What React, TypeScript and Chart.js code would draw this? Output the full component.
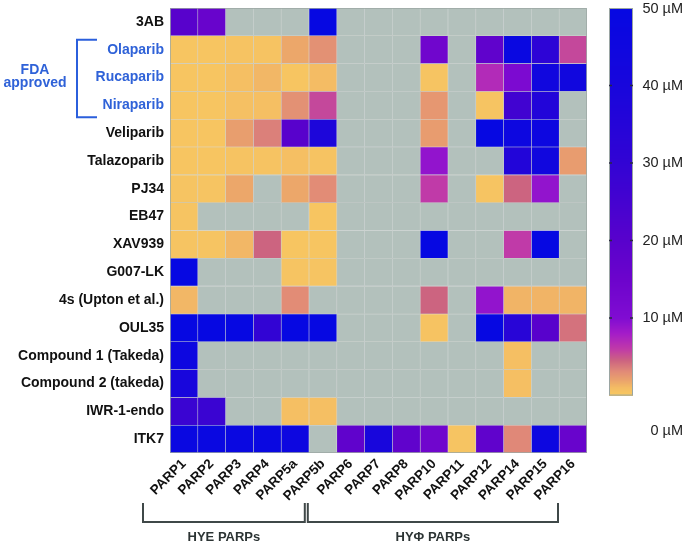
import { useEffect, useRef } from "react";
import { Chart, registerables } from "chart.js";

Chart.register(...registerables);

const compounds = [
  "3AB",
  "Olaparib",
  "Rucaparib",
  "Niraparib",
  "Veliparib",
  "Talazoparib",
  "PJ34",
  "EB47",
  "XAV939",
  "G007-LK",
  "4s (Upton et al.)",
  "OUL35",
  "Compound 1 (Takeda)",
  "Compound 2 (takeda)",
  "IWR-1-endo",
  "ITK7",
];

const parps = [
  "PARP1", "PARP2", "PARP3", "PARP4", "PARP5a", "PARP5b",
  "PARP6", "PARP7", "PARP8", "PARP10", "PARP11", "PARP12",
  "PARP14", "PARP15", "PARP16",
];

const n = null;
// IC50 values in µM (null = not determined, grey)
const ic3AB = [20, 16, n, n, n, 50, n, n, n, n, n, n, n, n, n];
const icOlaparib = [0.3, 0.3, 0.5, 0.5, 1.8, 2.8, n, n, n, 14, n, 18, 48, 32, 5.5];
const icRucaparib = [0.3, 0.3, 0.8, 1.2, 0.3, 1.0, n, n, n, 0.4, n, 7, 11, 44, 44];
const icNiraparib = [0.3, 0.3, 0.7, 0.8, 2.8, 5.5, n, n, n, 2.5, n, 0.4, 26, 36, n];
const icVeliparib = [0.3, 0.3, 2.2, 3.5, 20, 38, n, n, n, 2.3, n, 50, 46, 46, n];
const icTalazoparib = [0.3, 0.3, 0.5, 0.5, 0.8, 0.5, n, n, n, 9, n, n, 36, 44, 2.3];
const icPJ34 = [0.4, 0.4, 1.8, n, 1.8, 3.0, n, n, n, 6, n, 0.4, 4.5, 9, n];
const icEB47 = [0.4, n, n, n, n, 0.3, n, n, n, n, n, n, n, n, n];
const icXAV939 = [0.4, 0.4, 1.2, 4.5, 0.3, 0.3, n, n, n, 50, n, n, 6, 50, n];
const icG007LK = [50, n, n, n, 0.4, 0.4, n, n, n, n, n, n, n, n, n];
const ic4s = [1.2, n, n, n, 3.0, n, n, n, n, 4.5, n, 9, 1.3, 1.3, 1.3];
const icOUL35 = [50, 50, 50, 30, 50, 50, n, n, n, 0.5, n, 50, 34, 20, 4];
const icCompound1 = [46, n, n, n, n, n, n, n, n, n, n, n, 0.8, n, n];
const icCompound2 = [40, n, n, n, n, n, n, n, n, n, n, n, 0.8, n, n];
const icIWR1 = [28, 28, n, n, 0.8, 0.8, n, n, n, n, n, n, n, n, n];
const icITK7 = [48, 48, 48, 48, 46, n, 18, 40, 18, 14, 0.4, 18, 3.2, 46, 16];

const matrix = [
  ic3AB, icOlaparib, icRucaparib, icNiraparib, icVeliparib, icTalazoparib,
  icPJ34, icEB47, icXAV939, icG007LK, ic4s, icOUL35, icCompound1, icCompound2,
  icIWR1, icITK7,
];

const fdaRows = [1, 2, 3];
const colorbarTicks = [0, 10, 20, 30, 40, 50];
const colorbarMax = 50;
const groupLabels = ["HYE PARPs", "HYΦ PARPs"];

const GREY = "#b3c1bc";
const BLUE_TEXT = "#2f62d8";
const FONT = "'Liberation Sans', Arial, Helvetica, sans-serif";

const stops: [number, number[]][] = [
  [0, [248, 201, 96]],
  [1, [244, 188, 100]],
  [2, [234, 162, 108]],
  [3.2, [224, 136, 120]],
  [4.5, [204, 100, 128]],
  [6, [192, 58, 168]],
  [8, [164, 28, 200]],
  [10, [128, 12, 210]],
  [15, [108, 4, 204]],
  [20, [88, 2, 204]],
  [30, [50, 4, 212]],
  [40, [24, 6, 220]],
  [50, [6, 8, 226]],
];

function colorFor(v: number | null): string {
  if (v === null || v === undefined) return GREY;
  const x = Math.max(0, Math.min(colorbarMax, v));
  for (let i = 0; i < stops.length - 1; i++) {
    const [a, ca] = stops[i];
    const [b, cb] = stops[i + 1];
    if (x >= a && x <= b) {
      const t = (x - a) / (b - a);
      const c = ca.map((q, k) => Math.round(q + (cb[k] - q) * t));
      return `rgb(${c[0]},${c[1]},${c[2]})`;
    }
  }
  const l = stops[stops.length - 1][1];
  return `rgb(${l[0]},${l[1]},${l[2]})`;
}

const decorPlugin = {
  id: "decor",
  afterDraw(chart: any) {
    const ctx = chart.ctx as CanvasRenderingContext2D;
    const area = chart.chartArea;
    const xs = chart.scales.x;
    const ys = chart.scales.y;
    ctx.save();

    // grid outline
    ctx.strokeStyle = "rgba(150,162,158,0.7)";
    ctx.lineWidth = 1;
    ctx.strokeRect(area.left + 0.5, area.top + 0.5, area.right - area.left - 1, area.bottom - area.top - 1);

    // FDA approved bracket
    const yTop = ys.getPixelForValue(fdaRows[0]) - 10;
    const yBot = ys.getPixelForValue(fdaRows[fdaRows.length - 1]) + 12;
    const bx = area.left - 93;
    ctx.strokeStyle = "#2b5fdc";
    ctx.lineWidth = 2;
    ctx.beginPath();
    ctx.moveTo(bx + 20, yTop);
    ctx.lineTo(bx, yTop);
    ctx.lineTo(bx, yBot);
    ctx.lineTo(bx + 20, yBot);
    ctx.stroke();
    const yMid = ys.getPixelForValue(fdaRows[1]);
    ctx.fillStyle = BLUE_TEXT;
    ctx.font = `bold 14px ${FONT}`;
    ctx.textAlign = "center";
    ctx.textBaseline = "middle";
    ctx.fillText("FDA", area.left - 135, yMid - 7.5);
    ctx.fillText("approved", area.left - 135, yMid + 5.5);

    // bottom group brackets
    const groups = [
      [xs.getPixelForValue(0) - 27, xs.getPixelForValue(6) - 32],
      [xs.getPixelForValue(6) - 29, xs.getPixelForValue(15) - 29],
    ];
    const armTop = area.bottom + 50;
    const armBot = area.bottom + 69;
    ctx.strokeStyle = "#3f4848";
    ctx.lineWidth = 2;
    groups.forEach(([l, r], gi) => {
      ctx.beginPath();
      ctx.moveTo(l, armTop);
      ctx.lineTo(l, armBot);
      ctx.lineTo(r, armBot);
      ctx.lineTo(r, armTop);
      ctx.stroke();
      ctx.fillStyle = "#2c3434";
      ctx.font = `bold 13px ${FONT}`;
      ctx.textAlign = "center";
      ctx.textBaseline = "middle";
      ctx.fillText(groupLabels[gi], (l + r) / 2, area.bottom + 84);
    });

    // colorbar
    const cbLeft = area.right + 22;
    const cbW = 24;
    const cbTop = area.top;
    const cbBot = area.top + (area.bottom - area.top) * 0.871;
    const valToY = (v: number) => cbBot - (v / colorbarMax) * (cbBot - cbTop);
    for (let y = Math.floor(cbTop); y < cbBot; y++) {
      const v = ((cbBot - (y + 0.5)) / (cbBot - cbTop)) * colorbarMax;
      ctx.fillStyle = colorFor(v);
      ctx.fillRect(cbLeft, y, cbW, 1);
    }
    ctx.strokeStyle = "#9aa5a2";
    ctx.lineWidth = 1;
    ctx.strokeRect(cbLeft + 0.5, cbTop + 0.5, cbW - 1, cbBot - cbTop - 1);
    ctx.strokeStyle = "#2a2a40";
    ctx.lineWidth = 1.5;
    colorbarTicks.forEach((t) => {
      if (t === 0 || t === colorbarMax) return;
      const y = valToY(t);
      ctx.beginPath();
      ctx.moveTo(cbLeft, y);
      ctx.lineTo(cbLeft + 3, y);
      ctx.moveTo(cbLeft + cbW - 3, y);
      ctx.lineTo(cbLeft + cbW, y);
      ctx.stroke();
    });
    ctx.fillStyle = "#222";
    ctx.font = `14.5px ${FONT}`;
    ctx.textAlign = "right";
    ctx.textBaseline = "middle";
    colorbarTicks.forEach((t) => {
      const y = t === 0 ? cbBot + 35 : valToY(t) + (t === colorbarMax ? 1 : 0);
      ctx.fillText(`${t} µM`, 683, y);
    });

    ctx.restore();
  },
};

export default function App() {
  const ref = useRef<HTMLCanvasElement | null>(null);

  useEffect(() => {
    if (!ref.current) return;
    Chart.defaults.font.family = FONT;
    const datasets = parps.map((p, j) => ({
      label: p,
      data: compounds.map(() => 1),
      backgroundColor: compounds.map((_, i) => colorFor(matrix[i][j])),
      borderColor: "rgba(150,160,158,0.35)",
      borderWidth: 0.6,
      borderSkipped: false,
      barPercentage: 1,
      categoryPercentage: 1,
    }));

    const chart = new Chart(ref.current, {
      type: "bar",
      data: { labels: compounds, datasets },
      options: {
        indexAxis: "y",
        responsive: false,
        animation: false,
        layout: { padding: { top: 8, right: 98, bottom: 0, left: 0 } },
        plugins: {
          legend: { display: false },
          tooltip: { enabled: false },
        },
        scales: {
          x: {
            type: "linear",
            stacked: true,
            min: 0,
            max: parps.length,
            position: "bottom",
            grid: { display: false, drawTicks: false },
            border: { display: false },
            afterBuildTicks: (s: any) => {
              s.ticks = parps.map((_, i) => ({ value: i + 0.5 }));
            },
            afterFit: (s: any) => {
              s.height = 91;
              s.paddingLeft = 0;
              s.paddingRight = 0;
            },
            ticks: {
              autoSkip: false,
              maxRotation: 45,
              minRotation: 45,
              padding: 3,
              color: "#111",
              font: { size: 13.5, weight: "bold" },
              callback: (_v: any, i: number) => parps[i],
            },
          },
          y: {
            type: "category",
            stacked: true,
            grid: { display: false, drawTicks: false },
            border: { display: false },
            afterFit: (s: any) => {
              s.width = 170;
              s.paddingTop = 0;
              s.paddingBottom = 0;
            },
            ticks: {
              padding: 6,
              font: { size: 14, weight: "bold" },
              color: (c: any) => (fdaRows.includes(c.index) ? BLUE_TEXT : "#111"),
            },
          },
        },
      },
      plugins: [decorPlugin],
    } as any);

    return () => chart.destroy();
  }, []);

  return (
    <div style={{ position: "absolute", left: 0, top: 0, width: 685, height: 544, background: "#fff" }}>
      <canvas ref={ref} width={685} height={544} style={{ display: "block" }} />
    </div>
  );
}
